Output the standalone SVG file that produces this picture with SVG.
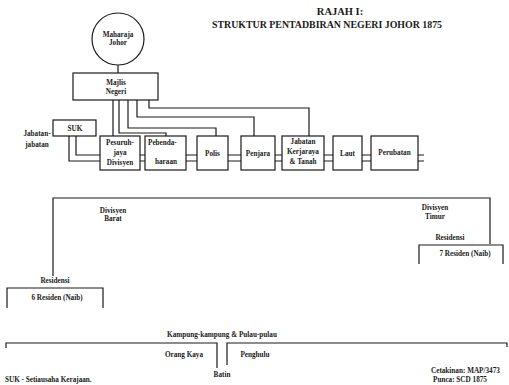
<svg xmlns="http://www.w3.org/2000/svg" width="509" height="385" viewBox="0 0 509 385">
<style>
.b{fill:#fff;stroke:#1a1a1a;stroke-width:1.2}
.c{fill:none;stroke:#1a1a1a;stroke-width:1.2}
text{font-family:"Liberation Serif","Times New Roman",serif;font-weight:bold;font-size:7.2px;fill:#1a1a1a;text-anchor:middle}
.t{font-size:10.5px}
.l{text-anchor:start}
.r{text-anchor:end}
</style>
<rect width="509" height="385" fill="#fff"/>
<g id="title">
<text class="t" x="340" y="15">RAJAH I:</text>
<text class="t" x="327" y="28" textLength="230" lengthAdjust="spacingAndGlyphs">STRUKTUR PENTADBIRAN NEGERI JOHOR 1875</text>
</g>
<g id="connectors">
<path class="c" d="M118,65V73"/>
<path class="c" d="M113,100V136M119,100V133H166V136M128,100V128H216V136M137,100V117H254V136M149,100V108H309V136"/>
<path class="c" d="M76,136V155H100M69,136V161H100"/>
<path class="c" d="M140,155H145M140,161H145M186,155H197M186,161H197M228,155H241M228,161H241M275,155H282M275,161H282M324,155H333M324,161H333M362,155H371M362,161H371M418,155H424M418,161H424"/>
<path class="c" d="M53,276V198H490V244"/>
<path class="c" d="M7,308V288H103V308"/>
<path class="c" d="M419,264V245H503V264"/>
<path class="c" d="M6,348V343H217V368M227,365V343H507V347"/>
</g>
<g id="maharaja"><circle class="b" cx="118" cy="39" r="26"/><text x="118" y="37">Maharaja</text><text x="118" y="45">Johor</text></g>
<g id="majlis"><rect class="b" x="73" y="73" width="85" height="27"/><text x="116" y="85">Majlis</text><text x="116" y="94">Negeri</text></g>
<g id="suk"><rect class="b" x="53" y="120" width="43" height="16"/><text x="75" y="130.5">SUK</text></g>
<g id="jabatan-jabatan"><text x="37" y="136">Jabatan-</text><text x="37" y="147">jabatan</text></g>
<g id="pesuruhjaya"><rect class="b" x="100" y="136" width="40" height="34"/><text x="120" y="145">Pesuruh-</text><text x="120" y="155">jaya</text><text x="120" y="165">Divisyen</text></g>
<g id="pebendaharaan"><rect class="b" x="145" y="136" width="41" height="34"/><text class="l" x="148" y="145">Pebenda-</text><text x="166" y="164">haraan</text></g>
<g id="polis"><rect class="b" x="197" y="136" width="31" height="34"/><text x="212.5" y="156">Polis</text></g>
<g id="penjara"><rect class="b" x="241" y="136" width="34" height="34"/><text x="258" y="156">Penjara</text></g>
<g id="jabatan-kerjaraya"><rect class="b" x="282" y="136" width="42" height="34"/><text x="303" y="144">Jabatan</text><text x="303" y="154">Kerjaraya</text><text x="303" y="164">&amp; Tanah</text></g>
<g id="laut"><rect class="b" x="333" y="136" width="29" height="34"/><text x="347.5" y="156">Laut</text></g>
<g id="perubatan"><rect class="b" x="371" y="136" width="47" height="34"/><text x="394.5" y="155">Perubatan</text></g>
<g id="divisyen-barat"><text x="113" y="213">Divisyen</text><text x="113" y="221">Barat</text></g>
<g id="divisyen-timur"><text x="435" y="210">Divisyen</text><text x="435" y="219">Timur</text></g>
<g id="residensi-barat"><text x="55" y="283">Residensi</text><text x="57" y="300">6 Residen (Naib)</text></g>
<g id="residensi-timur"><text x="450" y="240">Residensi</text><text x="465" y="256">7 Residen (Naib)</text></g>
<g id="kampung"><text x="222" y="337">Kampung-kampung &amp; Pulau-pulau</text></g>
<g id="orang-kaya"><text x="184" y="357">Orang Kaya</text></g>
<g id="penghulu"><text x="255" y="357">Penghulu</text></g>
<g id="batin"><text x="222" y="377">Batin</text></g>
<g id="notes"><text class="l" x="5" y="382">SUK  -  Setiausaha Kerajaan.</text><text class="l" x="431" y="373">Cetakinan: MAP/3473</text><text class="l" x="433" y="382">Punca: SCD 1875</text></g>
</svg>
